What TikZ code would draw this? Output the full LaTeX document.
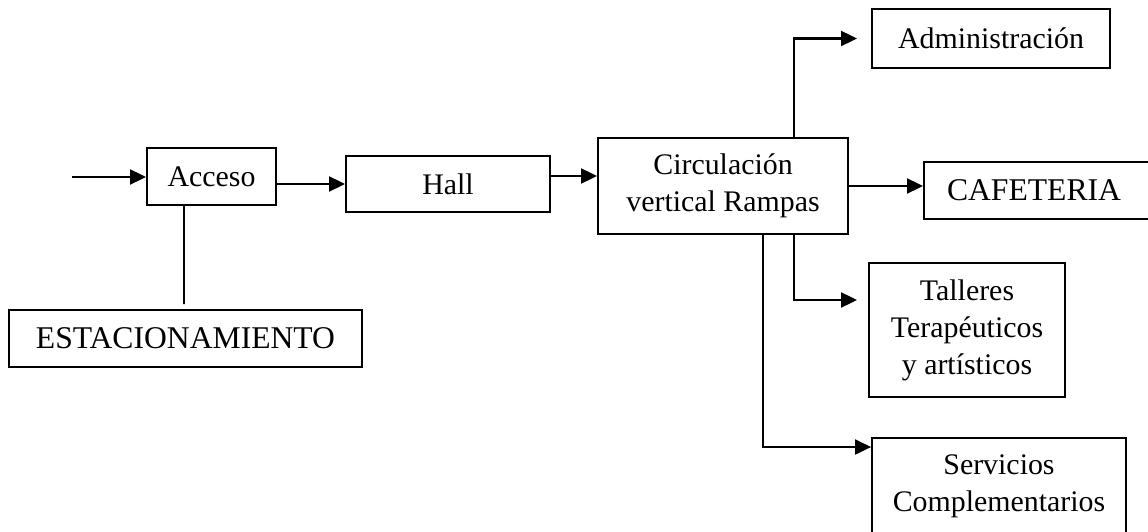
\documentclass[tikz,border=0pt]{standalone}
\usepackage{fontspec}
\setmainfont{Liberation Serif}
\usetikzlibrary{arrows.meta,calc}

\tikzset{
    bloque/.style={draw, line width=1.1pt, inner sep=0pt, align=center,
        font=\fontsize{17}{21}\selectfont},
    grande/.style={font=\fontsize{18}{21}\selectfont},
    flecha/.style={line width=1.2pt, -{Triangle[length=0.32cm, width=0.3cm]}},
    linea/.style={line width=1.1pt}
}

\begin{document}
\begin{tikzpicture}
    \useasboundingbox (0, 0) rectangle (22.96, 10.62);

    % bloques principales
    \node[bloque, minimum width=2.58cm, minimum height=1.14cm] (acceso) at (4.23, 7.09) {Acceso};
    \node[bloque, grande, minimum width=7.06cm, minimum height=1.14cm] (estac) at (3.71, 3.85) {ESTACIONAMIENTO};
    \node[bloque, minimum width=4.08cm, minimum height=1.12cm] (hall) at (8.96, 6.94) {Hall};
    \node[bloque, minimum width=5cm, minimum height=1.92cm] (circ) at (14.46, 6.9) {Circulación\\vertical Rampas};

    % destinos
    \node[bloque, minimum width=4.76cm, minimum height=1.18cm] (admin) at (19.82, 9.85) {Administración};
    \node[bloque, grande, text width=3.8cm, inner xsep=0.46cm, align=left, minimum height=1.14cm] (cafe) at (20.84, 6.81) {CAFETERIA};
    \node[bloque, minimum width=3.92cm, minimum height=2.68cm] (talleres) at (19.34, 4.02) {Talleres\\Terapéuticos\\y artísticos};
    \node[bloque, minimum width=5.08cm, minimum height=1.92cm] (servicios) at (19.98, 0.9) {Servicios\\Complementarios};

    \coordinate (entrada) at (1.44, 7.08);

    % recorrido
    \draw[flecha] (entrada) -- (entrada -| acceso.west);
    \draw[linea] ($(acceso.south)+(-0.55, 0)$) -- ($(estac.north)+(-0.03, 0.1)$);
    \draw[flecha] (acceso.east |- hall.west) -- (hall.west);
    \draw[flecha] ($(hall.east)+(0, 0.16)$) -- ($(hall.east -| circ.west)+(0, 0.16)$);
    \draw[flecha] (circ.east) -- (circ.east -| cafe.west);
    \draw[flecha] ($(circ.north)+(1.42, 0)$) |- ($(admin.west)+(-0.28, 0)$);
    \draw[flecha] ($(circ.south)+(1.42, 0)$) |- ($(talleres.west)+(-0.22, 0.6)$);
    \draw[flecha] ($(circ.south)+(0.8, 0)$) |- ($(servicios.north west)+(0, -0.2)$);
\end{tikzpicture}
\end{document}
